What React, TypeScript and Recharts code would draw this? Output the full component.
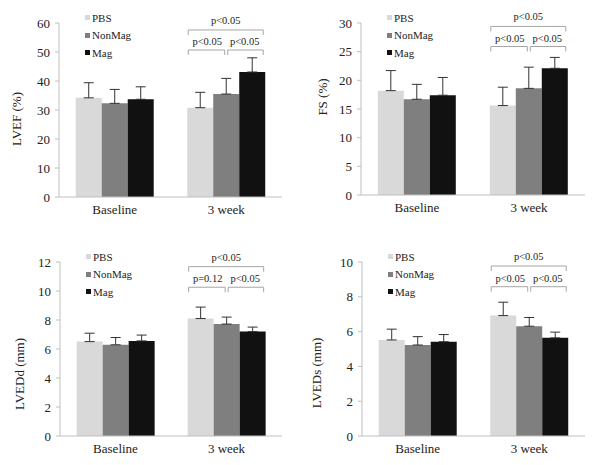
import React from 'react';
import { BarChart, Bar, XAxis, YAxis, ErrorBar, Legend, Rectangle } from 'recharts';

const groups = ['Baseline', '3 week'];
const seriesNames = ['PBS', 'NonMag', 'Mag'];
const seriesColors = ['#d9d9d9', '#7f7f7f', '#111111'];

// LVEF (%)
const lvefPbs = [34.2, 30.8];
const lvefNonMag = [32.3, 35.5];
const lvefMag = [33.7, 43.1];
const lvefPbsErr = [5.2, 5.3];
const lvefNonMagErr = [4.8, 5.4];
const lvefMagErr = [4.3, 4.9];
const lvefTicks = [0, 10, 20, 30, 40, 50, 60];
const lvefBrackets = [57.6, 50.7];
const lvefP = ['p<0.05', 'p<0.05', 'p<0.05'];

// FS (%)
const fsPbs = [18.2, 15.6];
const fsNonMag = [16.7, 18.6];
const fsMag = [17.4, 22.1];
const fsPbsErr = [3.5, 3.2];
const fsNonMagErr = [2.6, 3.7];
const fsMagErr = [3.1, 1.9];
const fsTicks = [0, 5, 10, 15, 20, 25, 30];
const fsBrackets = [29.4, 25.9];
const fsP = ['p<0.05', 'p<0.05', 'p<0.05'];

// LVEDd (mm)
const lveddPbs = [6.51, 8.1];
const lveddNonMag = [6.29, 7.72];
const lveddMag = [6.56, 7.2];
const lveddPbsErr = [0.58, 0.79];
const lveddNonMagErr = [0.5, 0.48];
const lveddMagErr = [0.4, 0.31];
const lveddTicks = [0, 2, 4, 6, 8, 10, 12];
const lveddBrackets = [11.68, 10.26];
const lveddP = ['p<0.05', 'p=0.12', 'p<0.05'];

// LVEDs (mm)
const lvedsPbs = [5.52, 6.92];
const lvedsNonMag = [5.23, 6.31];
const lvedsMag = [5.42, 5.64];
const lvedsPbsErr = [0.62, 0.77];
const lvedsNonMagErr = [0.48, 0.5];
const lvedsMagErr = [0.41, 0.33];
const lvedsTicks = [0, 2, 4, 6, 8, 10];
const lvedsBrackets = [9.77, 8.58];
const lvedsP = ['p<0.05', 'p<0.05', 'p<0.05'];

const FONT = '"Liberation Serif", "Times New Roman", serif';
const AXIS_GREY = '#bfbfbf';
const TEXT = '#222';

const makeRows = (
  pbs: number[], nonMag: number[], mag: number[],
  pbsErr: number[], nonMagErr: number[], magErr: number[]
) =>
  groups.map((g, i) => ({
    group: g,
    pbs: pbs[i],
    nonMag: nonMag[i],
    mag: mag[i],
    pbsErr: [0, pbsErr[i]],
    nonMagErr: [0, nonMagErr[i]],
    magErr: [0, magErr[i]],
  }));

// Mag bar shape: draws the bar, and for the 3 week group also the significance brackets
const makeMagShape = (levels: number[], pLabels: string[]) => (props: any) => {
  const { x, y, width, height, payload, fill } = props;
  const bar = <Rectangle x={x} y={y} width={width} height={height} fill={fill} />;
  if (!payload || payload.group !== groups[1]) return bar;
  const base = y + height;
  const per = height / payload.mag;
  const py = (v: number) => base - v * per;
  const left = x - 2 * width + 1;
  const mid = x - width / 2;
  const right = x + width - 2;
  const top = py(levels[0]);
  const low = py(levels[1]);
  const t = 5;
  const br = (a: number, b: number, yy: number) => `M${a},${yy + t}V${yy}H${b}V${yy + t}`;
  const txt = { fontSize: 10.5, fill: TEXT, fontFamily: FONT, textAnchor: 'middle' as const };
  return (
    <g>
      {bar}
      <path d={br(left, right, top)} stroke="#a6a6a6" fill="none" strokeWidth={1} />
      <path d={br(left, mid - 1.5, low)} stroke="#a6a6a6" fill="none" strokeWidth={1} />
      <path d={br(mid + 1.5, right, low)} stroke="#a6a6a6" fill="none" strokeWidth={1} />
      <text x={(left + right) / 2} y={top - 6} {...txt}>{pLabels[0]}</text>
      <text x={(left + mid) / 2} y={low - 5} {...txt}>{pLabels[1]}</text>
      <text x={(mid + right) / 2} y={low - 5} {...txt}>{pLabels[2]}</text>
    </g>
  );
};

const renderLegend = ({ payload }: any) => {
  const items = [...(payload || [])].sort(
    (a: any, b: any) => seriesNames.indexOf(a.value) - seriesNames.indexOf(b.value)
  );
  return (
    <div style={{ fontFamily: FONT, fontSize: 11, color: TEXT }}>
      {items.map((p: any) => (
        <div key={p.value} style={{ display: 'flex', alignItems: 'center', height: 17.5, whiteSpace: 'nowrap' }}>
          <span style={{ display: 'inline-block', width: 5, height: 5, background: p.color, marginRight: 2 }} />
          {p.value}
        </div>
      ))}
    </div>
  );
};

interface PanelProps {
  left: number;
  top: number;
  height: number;
  plotLeft: number;
  plotTop: number;
  marginRight: number;
  xAxisHeight: number;
  marginBottom: number;
  rows: any[];
  ticks: number[];
  yLabel: string;
  labelX: number;
  labelDy: number;
  brackets: number[];
  pLabels: string[];
}

const Panel: React.FC<PanelProps> = (p) => {
  const yAxisWidth = 40;
  return (
    <div style={{ position: 'absolute', left: p.left, top: p.top, fontFamily: FONT }}>
      <BarChart
        width={300}
        height={p.height}
        data={p.rows}
        margin={{ top: p.plotTop, right: p.marginRight, bottom: p.marginBottom, left: p.plotLeft - yAxisWidth }}
        barCategoryGap="15%"
        barGap={0}
        style={{ fontFamily: FONT }}
      >
        <XAxis
          dataKey="group"
          height={p.xAxisHeight}
          axisLine={{ stroke: AXIS_GREY }}
          tickLine={false}
          tick={{ fill: TEXT, fontSize: 13, fontFamily: FONT }}
        />
        <YAxis
          width={yAxisWidth}
          domain={[0, p.ticks[p.ticks.length - 1]]}
          ticks={p.ticks}
          interval={0}
          axisLine={{ stroke: AXIS_GREY }}
          tickLine={{ stroke: AXIS_GREY }}
          tickSize={4}
          tickMargin={5}
          tick={{ fill: TEXT, fontSize: 13, fontFamily: FONT }}
          label={{
            content: (lp: any) => {
              const vb = lp.viewBox || { y: p.plotTop, height: 174 };
              const cy = vb.y + vb.height / 2 + p.labelDy;
              return (
                <text
                  x={p.labelX}
                  y={cy}
                  transform={`rotate(-90, ${p.labelX}, ${cy})`}
                  textAnchor="middle"
                  dominantBaseline="central"
                  fontSize={13}
                  fontFamily={FONT}
                  fill={TEXT}
                >
                  {p.yLabel}
                </text>
              );
            },
          }}
        />
        <Legend
          layout="vertical"
          align="center"
          verticalAlign="middle"
          content={renderLegend}
          wrapperStyle={{ left: p.plotLeft + 26, top: p.plotTop - 14, width: 'auto' }}
        />
        <Bar dataKey="pbs" name={seriesNames[0]} fill={seriesColors[0]} isAnimationActive={false}>
          <ErrorBar dataKey="pbsErr" direction="y" width={5} stroke="#333" strokeWidth={1} />
        </Bar>
        <Bar dataKey="nonMag" name={seriesNames[1]} fill={seriesColors[1]} isAnimationActive={false}>
          <ErrorBar dataKey="nonMagErr" direction="y" width={5} stroke="#333" strokeWidth={1} />
        </Bar>
        <Bar
          dataKey="mag"
          name={seriesNames[2]}
          fill={seriesColors[2]}
          isAnimationActive={false}
          shape={makeMagShape(p.brackets, p.pLabels)}
        >
          <ErrorBar dataKey="magErr" direction="y" width={5} stroke="#333" strokeWidth={1} />
        </Bar>
      </BarChart>
    </div>
  );
};

export default function App() {
  return (
    <div style={{ position: 'absolute', left: 0, top: 0, width: 600, height: 465, background: '#fff', fontFamily: FONT }}>
      <Panel
        left={0} top={0} height={232}
        plotLeft={59} plotTop={23} marginRight={18} xAxisHeight={30} marginBottom={5}
        rows={makeRows(lvefPbs, lvefNonMag, lvefMag, lvefPbsErr, lvefNonMagErr, lvefMagErr)}
        ticks={lvefTicks} yLabel="LVEF (%)" labelX={16} labelDy={9}
        brackets={lvefBrackets} pLabels={lvefP}
      />
      <Panel
        left={300} top={0} height={232}
        plotLeft={61} plotTop={23} marginRight={15} xAxisHeight={30} marginBottom={7}
        rows={makeRows(fsPbs, fsNonMag, fsMag, fsPbsErr, fsNonMagErr, fsMagErr)}
        ticks={fsTicks} yLabel="FS (%)" labelX={22} labelDy={-12}
        brackets={fsBrackets} pLabels={fsP}
      />
      <Panel
        left={0} top={232} height={233}
        plotLeft={60} plotTop={30} marginRight={18} xAxisHeight={25} marginBottom={4}
        rows={makeRows(lveddPbs, lveddNonMag, lveddMag, lveddPbsErr, lveddNonMagErr, lveddMagErr)}
        ticks={lveddTicks} yLabel="LVEDd (mm)" labelX={19} labelDy={25}
        brackets={lveddBrackets} pLabels={lveddP}
      />
      <Panel
        left={300} top={232} height={233}
        plotLeft={62} plotTop={30} marginRight={15} xAxisHeight={25} marginBottom={4}
        rows={makeRows(lvedsPbs, lvedsNonMag, lvedsMag, lvedsPbsErr, lvedsNonMagErr, lvedsMagErr)}
        ticks={lvedsTicks} yLabel="LVEDs (mm)" labelX={16} labelDy={24}
        brackets={lvedsBrackets} pLabels={lvedsP}
      />
    </div>
  );
}
